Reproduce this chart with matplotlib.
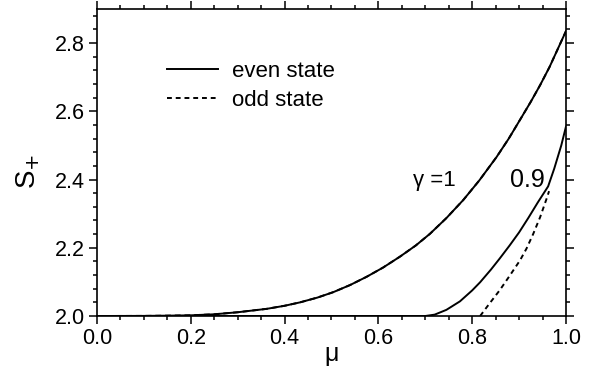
import matplotlib; matplotlib.use("Agg")
import matplotlib.pyplot as plt
from matplotlib.ticker import MultipleLocator

plt.rcParams['font.family'] = ['Liberation Sans', 'DejaVu Sans']

# gamma = 1 (even and odd states coincide)
mu_g1 = [0.0, 0.1, 0.15, 0.2, 0.25, 0.3, 0.362, 0.40, 0.433, 0.47, 0.504, 0.54, 0.575, 0.61,
         0.646, 0.68, 0.71, 0.745, 0.781, 0.815, 0.852, 0.878, 0.902, 0.925, 0.945, 0.965, 0.985, 1.0]
s_g1 = [2.0, 2.0003, 2.001, 2.002, 2.005, 2.011, 2.021, 2.030, 2.040, 2.054, 2.070, 2.091, 2.115, 2.142,
        2.174, 2.207, 2.241, 2.287, 2.340, 2.397, 2.466, 2.520, 2.575, 2.628, 2.677, 2.730, 2.790, 2.835]
# gamma = 0.9, even state
mu_e09 = [0.0, 0.30, 0.60, 0.70, 0.72, 0.745, 0.774, 0.80, 0.817, 0.84, 0.859, 0.88, 0.90, 0.92,
          0.94, 0.962, 0.975, 0.99, 1.0]
s_e09 = [2.0, 2.0, 2.0, 2.0, 2.004, 2.018, 2.043, 2.075, 2.099, 2.136, 2.169, 2.207, 2.245, 2.288,
         2.333, 2.380, 2.432, 2.50, 2.555]
# gamma = 0.9, odd state
mu_o09 = [0.817, 0.835, 0.859, 0.88, 0.902, 0.916, 0.93, 0.945, 0.959, 0.964]
s_o09 = [2.0, 2.033, 2.076, 2.118, 2.163, 2.198, 2.240, 2.290, 2.345, 2.366]

fig = plt.figure(figsize=(6.04, 3.66), dpi=100)
ax = fig.add_axes([0.1606, 0.1366, 0.7764, 0.8388])
lw = 1.4
ax.plot(mu_g1, s_g1, ls=(0, (3, 2)), color='k', lw=lw)
ax.plot(mu_g1, s_g1, color='k', lw=lw, label='even state')
ax.plot(mu_o09, s_o09, ls=(0, (2.5, 2)), color='k', lw=lw, label='odd state')
ax.plot(mu_e09, s_e09, color='k', lw=lw)

ax.set_xlim(0, 1.0); ax.set_ylim(2.0, 2.9)
ax.xaxis.set_major_locator(MultipleLocator(0.2)); ax.xaxis.set_minor_locator(MultipleLocator(0.05))
ax.yaxis.set_major_locator(MultipleLocator(0.2)); ax.yaxis.set_minor_locator(MultipleLocator(0.04))
ax.xaxis.set_major_formatter(plt.FormatStrFormatter('%.1f'))
ax.yaxis.set_major_formatter(plt.FormatStrFormatter('%.1f'))
ax.tick_params(which='both', direction='out', top=True, right=True, labelsize=15.5, width=1.1)
ax.tick_params(which='major', length=5.5, pad=3)
ax.tick_params(which='minor', length=3)
for s in ax.spines.values(): s.set_linewidth(1.2)

ax.set_xlabel('μ', fontsize=18)
ax.xaxis.set_label_coords(0.5, -0.085)
ax.set_ylabel('S$_{+}$', fontsize=20)
ax.yaxis.set_label_coords(-0.118, 0.47)
ax.text(0.72, 2.398, 'γ =1', fontsize=16, ha='center', va='center')
ax.text(0.917, 2.398, '0.9', fontsize=18, ha='center', va='center')

ax.legend(loc='upper left', bbox_to_anchor=(0.149, 0.83), frameon=False, fontsize=16,
          borderpad=0, borderaxespad=0, handlelength=2.3, handletextpad=0.65, labelspacing=0.35)
fig.savefig('out.png', dpi=100)
